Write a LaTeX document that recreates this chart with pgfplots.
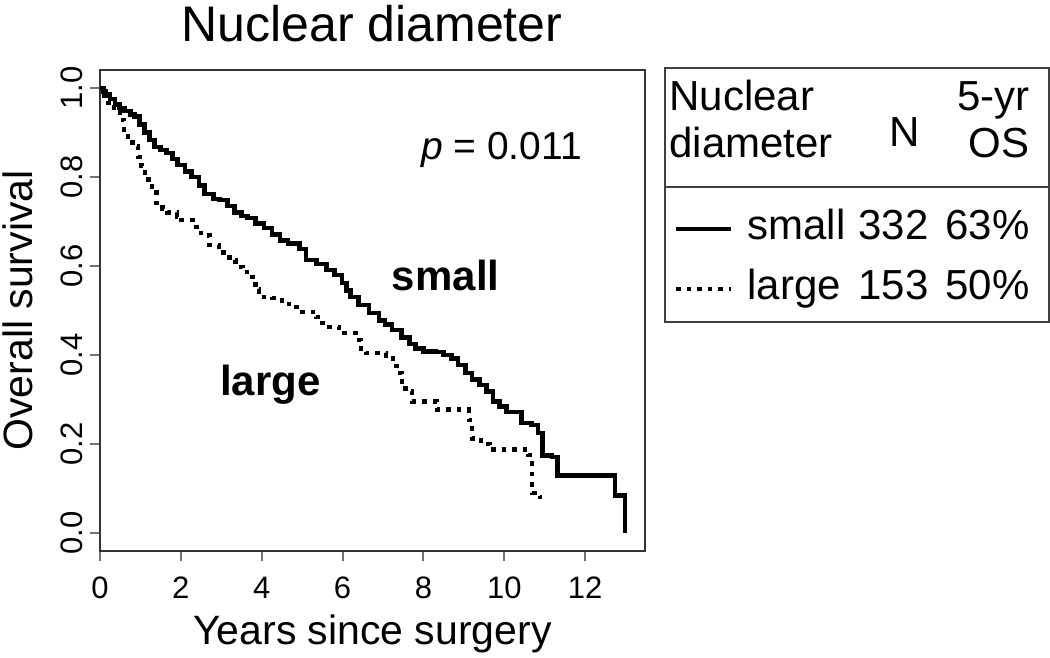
\documentclass[border=0pt]{standalone}
\usepackage{pgfplots}
\pgfplotsset{compat=1.18}
\usepackage{fontspec}
\setmainfont{Liberation Sans}

\pgfplotstableread{
t S
0 1.0
0.08 0.992
0.15 0.985
0.25 0.975
0.37 0.962
0.48 0.955
0.6 0.948
0.75 0.940
0.86 0.935
0.98 0.918
1.1 0.90
1.22 0.883
1.35 0.867
1.5 0.860
1.65 0.854
1.8 0.840
1.92 0.827
2.1 0.812
2.27 0.80
2.45 0.78
2.59 0.762
2.8 0.750
2.96 0.748
3.15 0.735
3.33 0.72
3.5 0.712
3.65 0.708
3.85 0.695
4.06 0.685
4.25 0.670
4.45 0.657
4.65 0.650
4.93 0.638
5.1 0.613
5.35 0.604
5.6 0.591
5.8 0.580
5.99 0.562
6.1 0.545
6.2 0.530
6.4 0.512
6.65 0.494
6.9 0.478
7.05 0.468
7.22 0.456
7.45 0.440
7.65 0.425
7.8 0.415
8.0 0.408
8.3 0.407
8.5 0.400
8.7 0.392
8.85 0.378
9.04 0.360
9.2 0.345
9.38 0.333
9.56 0.318
9.72 0.295
9.88 0.285
10.05 0.272
10.43 0.247
10.68 0.243
10.83 0.225
10.94 0.175
11.18 0.171
11.31 0.13
12.74 0.085
12.99 0.0
}\smalltab

\pgfplotstableread{
t S
0 1.0
0.1 0.983
0.2 0.966
0.35 0.945
0.49 0.928
0.6 0.905
0.69 0.89
0.8 0.868
0.94 0.845
1.03 0.825
1.11 0.809
1.2 0.785
1.28 0.771
1.4 0.742
1.55 0.728
1.67 0.72
1.9 0.71
2.02 0.703
2.3 0.688
2.5 0.668
2.71 0.647
2.95 0.630
3.2 0.613
3.35 0.598
3.52 0.587
3.77 0.569
3.85 0.548
3.94 0.530
4.26 0.528
4.5 0.515
4.68 0.508
5.0 0.497
5.34 0.485
5.5 0.472
5.67 0.463
5.91 0.449
6.33 0.434
6.45 0.415
6.58 0.404
7.07 0.393
7.25 0.375
7.35 0.360
7.47 0.330
7.56 0.318
7.72 0.296
8.33 0.278
9.12 0.254
9.2 0.213
9.42 0.200
9.64 0.188
10.6 0.175
10.69 0.090
10.89 0.081
10.94 0.081
}\largetab

\begin{document}
\begin{tikzpicture}
\useasboundingbox (0,0) rectangle (525pt,329pt);
\begin{axis}[
  scale only axis, width=272.5pt, height=240.5pt,
  at={(50pt,53.5pt)}, anchor=south west,
  xmin=0, xmax=13.48, ymin=-0.04, ymax=1.04,
  xtick={0,2,4,6,8,10,12},
  xticklabels={0,2,4,6,8,10,12},
  ytick={0,0.2,0.4,0.6,0.8,1.0},
  yticklabels={0.0,0.2,0.4,0.6,0.8,1.0},
  /pgf/number format/assume math mode=true,
  tick align=outside,
  major tick length=5pt,
  tick style={black!55, line width=1pt},
  xtick pos=bottom, ytick pos=left,
  axis line style={black!80, line width=0.9pt},
  tick label style={font=\fontsize{15.5}{16}\selectfont},
  xticklabel style={yshift=-4.5pt},
  yticklabel style={rotate=90, anchor=south},
  xlabel={Years since surgery},
  ylabel={Overall survival},
  label style={font=\fontsize{20.5}{22}\selectfont},
  xlabel style={at={(axis description cs:0.5,0)}, anchor=base, yshift=-47pt},
  ylabel style={at={(axis description cs:0,0.5)}, anchor=base, yshift=33.5pt},
  clip=false,
]
\addplot[const plot, black, line width=2.3pt] table[x=t,y=S] {\smalltab};
\addplot[const plot, black, line width=2.2pt, dash pattern=on 2.3pt off 3pt] table[x=t,y=S] {\largetab};
\node[anchor=base, font=\fontsize{19.5}{21}\selectfont] at (axis cs:9.93,0.84) {\textit{p} = 0.011};
\node[anchor=base, font=\fontsize{21}{23}\selectfont\bfseries] at (axis cs:8.55,0.546) {small};
\node[anchor=base, font=\fontsize{21}{23}\selectfont\bfseries] at (axis cs:4.21,0.31) {large};
\end{axis}

% title
\node[anchor=base, inner sep=0pt, font=\fontsize{25}{27}\selectfont] at (186pt,308pt) {Nuclear diameter};

% legend table
\begin{scope}[font=\fontsize{21}{23}\selectfont]
\draw[black!75, line width=0.9pt] (332.5pt,295pt) rectangle (524.5pt,168pt);
\draw[black!75, line width=0.9pt] (332.5pt,235.5pt) -- (524.5pt,235.5pt);
\node[anchor=base west, inner sep=0pt] at (334.5pt,273.5pt) {Nuclear};
\node[anchor=base west, inner sep=0pt] at (334.5pt,250pt) {diameter};
\node[anchor=center, inner sep=0pt] at (452.5pt,263pt) {N};
\node[anchor=base east, inner sep=0pt] at (515pt,273.5pt) {5-yr};
\node[anchor=base east, inner sep=0pt] at (515pt,250pt) {OS};
\draw[black, line width=2.3pt] (338pt,214.5pt) -- (365.5pt,214.5pt);
\node[anchor=base west, inner sep=0pt] at (373.5pt,209pt) {small};
\node[anchor=base west, inner sep=0pt] at (429pt,209pt) {332};
\node[anchor=base east, inner sep=0pt] at (515pt,209pt) {63\%};
\draw[black, line width=2.2pt, dash pattern=on 2.3pt off 3pt] (338pt,184.5pt) -- (365.5pt,184.5pt);
\node[anchor=base west, inner sep=0pt] at (373.5pt,179pt) {large};
\node[anchor=base west, inner sep=0pt] at (429pt,179pt) {153};
\node[anchor=base east, inner sep=0pt] at (515pt,179pt) {50\%};
\end{scope}
\end{tikzpicture}
\end{document}
